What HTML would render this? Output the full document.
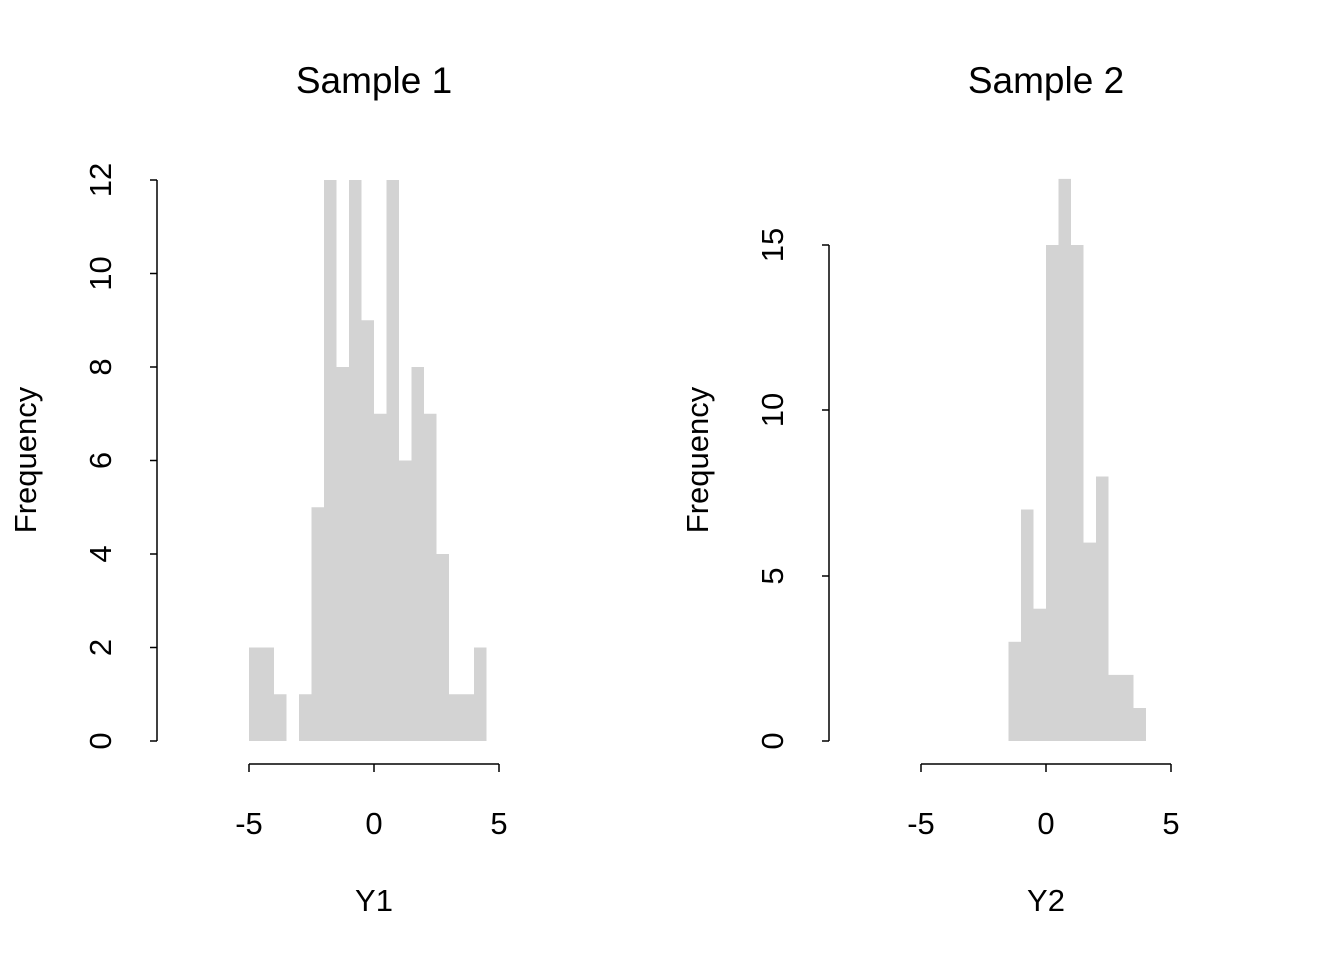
<!DOCTYPE html>
<html><head><style>html,body{margin:0;padding:0;background:#fff}</style></head><body>
<svg width="1344" height="960" xmlns="http://www.w3.org/2000/svg" font-family="Liberation Sans, Arial, sans-serif" font-size="31">
<rect width="1344" height="960" fill="#fff"/>
<g fill="#d3d3d3">
<rect x="249" y="647.5" width="12.5" height="93.5"/>
<rect x="261.5" y="647.5" width="12.5" height="93.5"/>
<rect x="274" y="694.25" width="12.5" height="46.75"/>
<rect x="299" y="694.25" width="12.5" height="46.75"/>
<rect x="311.5" y="507.25" width="12.5" height="233.75"/>
<rect x="324" y="180" width="12.5" height="561"/>
<rect x="336.5" y="367" width="12.5" height="374"/>
<rect x="349" y="180" width="12.5" height="561"/>
<rect x="361.5" y="320.25" width="12.5" height="420.75"/>
<rect x="374" y="413.75" width="12.5" height="327.25"/>
<rect x="386.5" y="180" width="12.5" height="561"/>
<rect x="399" y="460.5" width="12.5" height="280.5"/>
<rect x="411.5" y="367" width="12.5" height="374"/>
<rect x="424" y="413.75" width="12.5" height="327.25"/>
<rect x="436.5" y="554" width="12.5" height="187"/>
<rect x="449" y="694.25" width="12.5" height="46.75"/>
<rect x="461.5" y="694.25" width="12.5" height="46.75"/>
<rect x="474" y="647.5" width="12.5" height="93.5"/>
<rect x="1008.5" y="641.8" width="12.5" height="99.2"/>
<rect x="1021" y="509.5" width="12.5" height="231.5"/>
<rect x="1033.5" y="608.7" width="12.5" height="132.3"/>
<rect x="1046" y="245" width="12.5" height="496"/>
<rect x="1058.5" y="178.9" width="12.5" height="562.1"/>
<rect x="1071" y="245" width="12.5" height="496"/>
<rect x="1083.5" y="542.6" width="12.5" height="198.4"/>
<rect x="1096" y="476.5" width="12.5" height="264.5"/>
<rect x="1108.5" y="674.9" width="12.5" height="66.1"/>
<rect x="1121" y="674.9" width="12.5" height="66.1"/>
<rect x="1133.5" y="708" width="12.5" height="33"/>
</g>
<g stroke="#000" stroke-width="1.5" fill="none">
<path d="M157,741V180M157,741h-7M157,647.5h-7M157,554h-7M157,460.5h-7M157,367h-7M157,273.5h-7M157,180h-7"/>
<path d="M249,764H499M249,764v8M374,764v8M499,764v8"/>
<path d="M829,741V245M829,741h-7M829,576h-7M829,410h-7M829,245h-7"/>
<path d="M921,764H1171M921,764v8M1046,764v8M1171,764v8"/>
</g>
<g text-anchor="middle">
<text x="374" y="93" font-size="37">Sample 1</text>
<text x="1046" y="93" font-size="37">Sample 2</text>
<text x="249" y="834">-5</text><text x="374" y="834">0</text><text x="499" y="834">5</text>
<text x="921" y="834">-5</text><text x="1046" y="834">0</text><text x="1171" y="834">5</text>
<text x="374" y="911">Y1</text><text x="1046" y="911">Y2</text>
<g transform="translate(111,0)">
<text transform="translate(0,741) rotate(-90)">0</text>
<text transform="translate(0,647.5) rotate(-90)">2</text>
<text transform="translate(0,554) rotate(-90)">4</text>
<text transform="translate(0,460.5) rotate(-90)">6</text>
<text transform="translate(0,367) rotate(-90)">8</text>
<text transform="translate(0,273.5) rotate(-90)">10</text>
<text transform="translate(0,180) rotate(-90)">12</text>
</g>
<g transform="translate(783,0)">
<text transform="translate(0,741) rotate(-90)">0</text>
<text transform="translate(0,576) rotate(-90)">5</text>
<text transform="translate(0,410) rotate(-90)">10</text>
<text transform="translate(0,245) rotate(-90)">15</text>
</g>
<text transform="translate(36,460) rotate(-90)">Frequency</text>
<text transform="translate(708,460) rotate(-90)">Frequency</text>
</g>
</svg>
</body></html>
